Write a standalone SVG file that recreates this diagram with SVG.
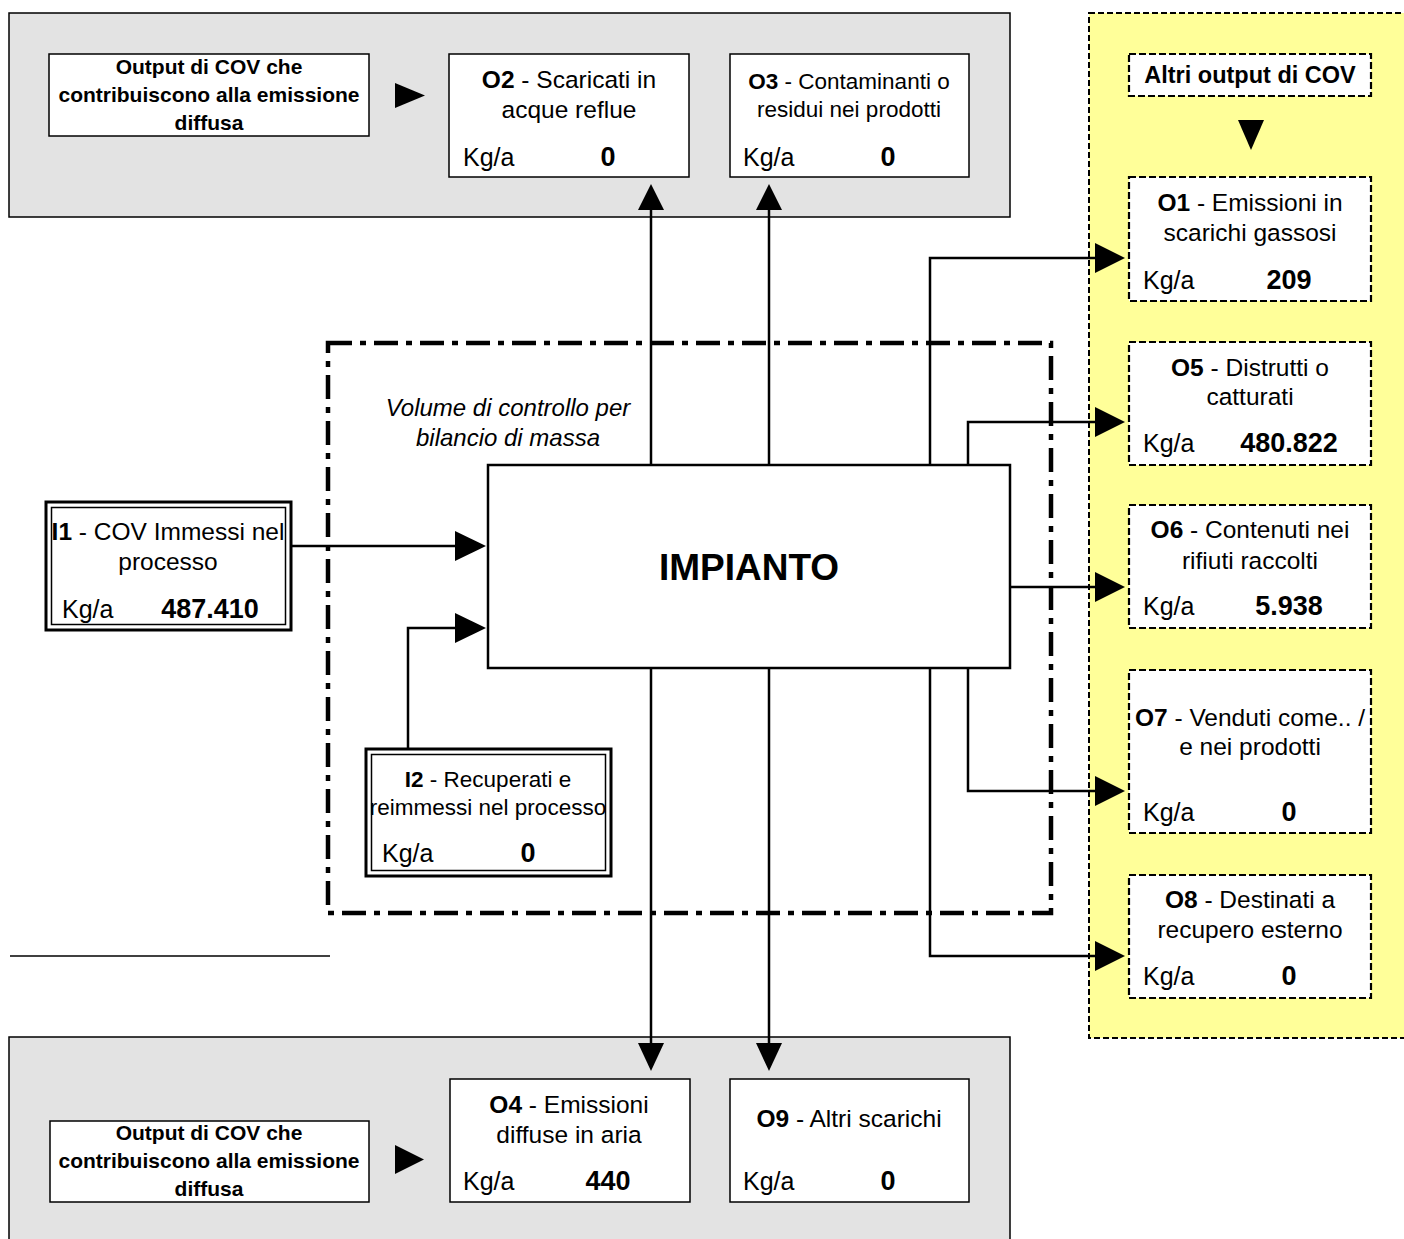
<svg xmlns="http://www.w3.org/2000/svg" width="1404" height="1239" viewBox="0 0 1404 1239">
<style>
text{font-family:"Liberation Sans",Arial,sans-serif;fill:#000}
.d{font-size:24.5px;text-anchor:middle}
.ds{font-size:22.5px;text-anchor:middle}
.k{font-size:25px}
.v{font-size:27px;font-weight:bold;text-anchor:middle}
.b{font-weight:bold}
.hd{font-size:21px;font-weight:bold;text-anchor:middle}
.box{fill:#fff;stroke:#000;stroke-width:1.5}
.dbox{fill:#fff;stroke:#000;stroke-width:2.2;stroke-dasharray:7 3}
.conn{fill:none;stroke:#000;stroke-width:2.5}
.ah{fill:#000}
</style>
<rect width="1404" height="1239" fill="#fff"/>
<g id="panel-top"><rect x="9" y="13" width="1001" height="204" fill="#e3e3e3" stroke="#000" stroke-width="1.5"/></g>
<g id="panel-bottom"><rect x="9" y="1037" width="1001" height="215" fill="#e3e3e3" stroke="#000" stroke-width="1.5"/></g>
<g id="panel-yellow"><rect x="1089" y="13" width="330" height="1025" fill="#ffff99" stroke="#000" stroke-width="2" stroke-dasharray="6 3"/></g>
<g id="control-volume">
<rect x="328" y="343" width="723" height="570" fill="none" stroke="#000" stroke-width="4.5" stroke-dasharray="24 8 6 8"/>
<text x="508" y="416" font-size="24" font-style="italic" text-anchor="middle">Volume di controllo per</text>
<text x="508" y="446" font-size="24" font-style="italic" text-anchor="middle">bilancio di massa</text>
</g>
<line x1="10" y1="956" x2="330" y2="956" stroke="#000" stroke-width="1.5"/>

<g id="connectors">
<path class="conn" d="M651,210 V465"/>
<polygon class="ah" points="638,210 664,210 651,184"/>
<path class="conn" d="M769,210 V465"/>
<polygon class="ah" points="756,210 782,210 769,184"/>
<path class="conn" d="M651,668 V1043"/>
<polygon class="ah" points="638,1043 664,1043 651,1071"/>
<path class="conn" d="M769,668 V1043"/>
<polygon class="ah" points="756,1043 782,1043 769,1071"/>
<path class="conn" d="M930,465 V258 H1095"/>
<polygon class="ah" points="1095,243 1095,273 1125,258"/>
<path class="conn" d="M968,465 V422 H1095"/>
<polygon class="ah" points="1095,407 1095,437 1125,422"/>
<path class="conn" d="M1010,587 H1095"/>
<polygon class="ah" points="1095,572 1095,602 1125,587"/>
<path class="conn" d="M968,668 V791 H1095"/>
<polygon class="ah" points="1095,776 1095,806 1125,791"/>
<path class="conn" d="M930,668 V956 H1095"/>
<polygon class="ah" points="1095,941 1095,971 1125,956"/>
<path class="conn" d="M292,546 H455"/>
<polygon class="ah" points="455,531 455,561 486,546"/>
<path class="conn" d="M408,748 V628 H455"/>
<polygon class="ah" points="455,613 455,643 486,628"/>
<polygon class="ah" points="395,83 395,108 425,95.5"/>
<polygon class="ah" points="395,1145 395,1174 424,1159.5"/>
<polygon class="ah" points="1238,120 1264,120 1251,150"/>
</g>

<g id="out-top">
<rect class="box" x="49" y="54" width="320" height="82"/>
<text class="hd" x="209" y="74">Output di COV che</text>
<text class="hd" x="209" y="102">contribuiscono alla emissione</text>
<text class="hd" x="209" y="130">diffusa</text>
</g>
<g id="O2">
<rect class="box" x="449" y="54" width="240" height="123"/>
<text class="d" x="569" y="88"><tspan class="b">O2</tspan> - Scaricati in</text>
<text class="d" x="569" y="118">acque reflue</text>
<text class="k" x="463" y="166">Kg/a</text>
<text class="v" x="608" y="166">0</text>
</g>
<g id="O3">
<rect class="box" x="730" y="54" width="239" height="123"/>
<text class="ds" x="849" y="89"><tspan class="b">O3</tspan> - Contaminanti o</text>
<text class="ds" x="849" y="117">residui nei prodotti</text>
<text class="k" x="743" y="166">Kg/a</text>
<text class="v" x="888" y="166">0</text>
</g>
<g id="altri">
<rect class="dbox" x="1129" y="54" width="242" height="42"/>
<text x="1250" y="83" font-size="23.5" font-weight="bold" text-anchor="middle">Altri output di COV</text>
</g>
<g id="O1">
<rect class="dbox" x="1129" y="177" width="242" height="124"/>
<text class="d" x="1250" y="211"><tspan class="b">O1</tspan> - Emissioni in</text>
<text class="d" x="1250" y="241">scarichi gassosi</text>
<text class="k" x="1143" y="289">Kg/a</text>
<text class="v" x="1289" y="289">209</text>
</g>
<g id="O5">
<rect class="dbox" x="1129" y="342" width="242" height="123"/>
<text class="d" x="1250" y="376"><tspan class="b">O5</tspan> - Distrutti o</text>
<text class="d" x="1250" y="405">catturati</text>
<text class="k" x="1143" y="452">Kg/a</text>
<text class="v" x="1289" y="452">480.822</text>
</g>
<g id="O6">
<rect class="dbox" x="1129" y="505" width="242" height="123"/>
<text class="d" x="1250" y="538"><tspan class="b">O6</tspan> - Contenuti nei</text>
<text class="d" x="1250" y="569">rifiuti raccolti</text>
<text class="k" x="1143" y="615">Kg/a</text>
<text class="v" x="1289" y="615">5.938</text>
</g>
<g id="O7">
<rect class="dbox" x="1129" y="670" width="242" height="163"/>
<text class="d" x="1250" y="726"><tspan class="b">O7</tspan> - Venduti come.. /</text>
<text class="d" x="1250" y="755">e nei prodotti</text>
<text class="k" x="1143" y="821">Kg/a</text>
<text class="v" x="1289" y="821">0</text>
</g>
<g id="O8">
<rect class="dbox" x="1129" y="875" width="242" height="123"/>
<text class="d" x="1250" y="908"><tspan class="b">O8</tspan> - Destinati a</text>
<text class="d" x="1250" y="938">recupero esterno</text>
<text class="k" x="1143" y="985">Kg/a</text>
<text class="v" x="1289" y="985">0</text>
</g>
<g id="impianto">
<rect x="488" y="465" width="522" height="203" fill="#fff" stroke="#000" stroke-width="2.5"/>
<text x="749" y="580" font-size="37" font-weight="bold" text-anchor="middle">IMPIANTO</text>
</g>
<g id="I1">
<rect x="46" y="502" width="245" height="128" fill="#fff" stroke="#000" stroke-width="3"/>
<rect x="51.5" y="507.5" width="234" height="117" fill="none" stroke="#000" stroke-width="1.5"/>
<text class="d" x="168" y="540"><tspan class="b">I1</tspan> - COV Immessi nel</text>
<text class="d" x="168" y="570">processo</text>
<text class="k" x="62" y="618">Kg/a</text>
<text class="v" x="210" y="618">487.410</text>
</g>
<g id="I2">
<rect x="366" y="749" width="245" height="127" fill="#fff" stroke="#000" stroke-width="3"/>
<rect x="371.5" y="754.5" width="234" height="116" fill="none" stroke="#000" stroke-width="1.5"/>
<text class="ds" x="488" y="787"><tspan class="b">I2</tspan> - Recuperati e</text>
<text class="ds" x="488" y="815">reimmessi nel processo</text>
<text class="k" x="382" y="862">Kg/a</text>
<text class="v" x="528" y="862">0</text>
</g>
<g id="out-bottom">
<rect class="box" x="50" y="1121" width="319" height="81"/>
<text class="hd" x="209" y="1140">Output di COV che</text>
<text class="hd" x="209" y="1168">contribuiscono alla emissione</text>
<text class="hd" x="209" y="1196">diffusa</text>
</g>
<g id="O4">
<rect class="box" x="450" y="1079" width="240" height="123"/>
<text class="d" x="569" y="1113"><tspan class="b">O4</tspan> - Emissioni</text>
<text class="d" x="569" y="1143">diffuse in aria</text>
<text class="k" x="463" y="1190">Kg/a</text>
<text class="v" x="608" y="1190">440</text>
</g>
<g id="O9">
<rect class="box" x="730" y="1079" width="239" height="123"/>
<text class="d" x="849" y="1127"><tspan class="b">O9</tspan> - Altri scarichi</text>
<text class="k" x="743" y="1190">Kg/a</text>
<text class="v" x="888" y="1190">0</text>
</g>
</svg>
